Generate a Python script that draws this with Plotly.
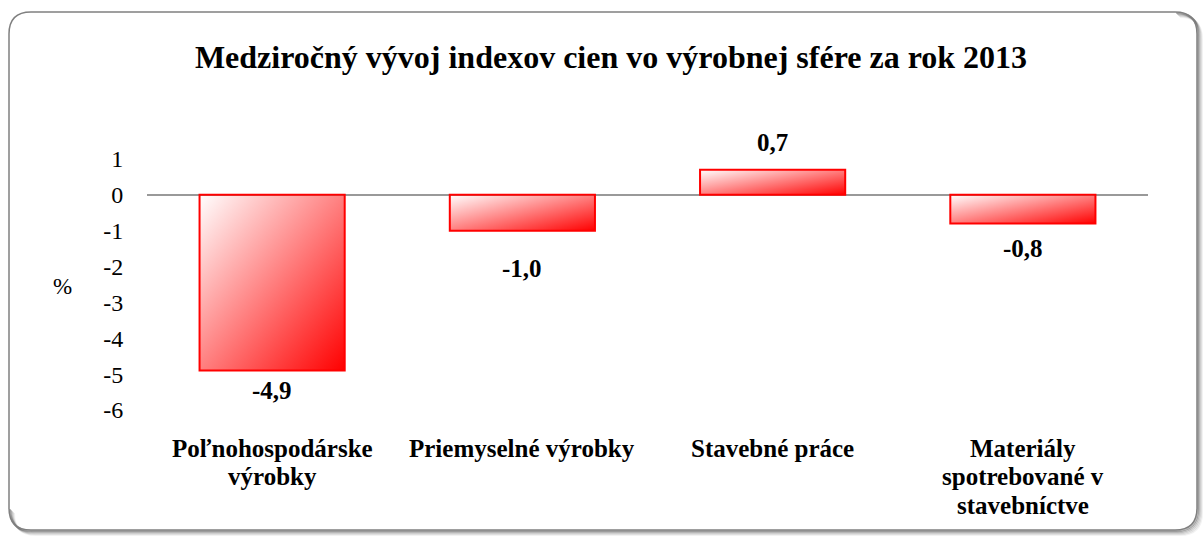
import base64
import plotly.graph_objects as go

categories = ["Poľnohospodárske<br>výrobky", "Priemyselné výrobky", "Stavebné práce",
              "Materiály<br>spotrebované v<br>stavebníctve"]
values = [-4.9, -1.0, 0.7, -0.8]
y_ticks = [1, 0, -1, -2, -3, -4, -5, -6]
title_text = "Medziročný vývoj indexov cien vo výrobnej sfére za rok 2013"
y_unit = "%"

# layout constants (pixels)
W, H = 1204, 538
L, R, T, B = 147, 1148, 159, 410
label_shift = [-20, -38, 27, -25]
bar_w = 0.58
SERIF = "Liberation Serif"
CAT_Y0, CAT_DY = 448, 28.5

def px(x):
    return (x - L) / (R - L)

def py(y):
    return (B - y) / (B - T)

svg = ('<svg xmlns="http://www.w3.org/2000/svg" width="100" height="100" preserveAspectRatio="none">'
       '<defs><linearGradient id="g" x1="0" y1="0" x2="1" y2="1">'
       '<stop offset="0" stop-color="#ffffff"/><stop offset="1" stop-color="#ff0000"/>'
       '</linearGradient></defs><rect width="100" height="100" fill="url(#g)"/></svg>')
grad_uri = "data:image/svg+xml;base64," + base64.b64encode(svg.encode()).decode()

xs = list(range(len(categories)))

fig = go.Figure()
fig.add_trace(go.Bar(
    x=xs, y=values, width=bar_w,
    marker=dict(color="rgba(0,0,0,0)", line=dict(color="#ff0000", width=2)),
    hoverinfo="skip",
))

images = []
for i, v in enumerate(values):
    images.append(dict(
        source=grad_uri, xref="x", yref="y",
        x=i - bar_w / 2, y=max(v, 0), sizex=bar_w, sizey=abs(v),
        xanchor="left", yanchor="top", sizing="stretch", layer="below",
    ))

annotations = []
for i, v in enumerate(values):
    annotations.append(dict(
        x=i, y=v, xref="x", yref="y", text=f"<b>{v:.1f}</b>".replace(".", ","),
        showarrow=False, yshift=label_shift[i], yanchor="middle",
        font=dict(family=SERIF, size=25, color="black"),
    ))
for i, cat in enumerate(categories):
    for k, line in enumerate(cat.split("<br>")):
        annotations.append(dict(
            x=i, y=py(CAT_Y0 + k * CAT_DY), xref="x", yref="paper", text=f"<b>{line}</b>",
            showarrow=False, xanchor="center", yanchor="middle",
            font=dict(family=SERIF, size=25, color="black"),
        ))
annotations.append(dict(
    x=px(62), y=py(286), xref="paper", yref="paper", text=y_unit, showarrow=False,
    font=dict(family=SERIF, size=23, color="black"), xanchor="center", yanchor="middle",
))

# frame with rounded corners
x0, y0, x1, y1, r = 9, 12, 1197, 530, 22

def frame_path(dx=0, dy=0, partial=False):
    a0, b0, a1, b1 = x0 + dx, y0 + dy, x1 + dx, y1 + dy
    if partial:
        pts = (f"M {px(a1 - r)},{py(b0)} Q {px(a1)},{py(b0)} {px(a1)},{py(b0 + r)} "
               f"L {px(a1)},{py(b1 - r)} Q {px(a1)},{py(b1)} {px(a1 - r)},{py(b1)} "
               f"L {px(a0 + r)},{py(b1)} Q {px(a0)},{py(b1)} {px(a0)},{py(b1 - r)}")
        return pts
    return (f"M {px(a0 + r)},{py(b0)} L {px(a1 - r)},{py(b0)} Q {px(a1)},{py(b0)} {px(a1)},{py(b0 + r)} "
            f"L {px(a1)},{py(b1 - r)} Q {px(a1)},{py(b1)} {px(a1 - r)},{py(b1)} "
            f"L {px(a0 + r)},{py(b1)} Q {px(a0)},{py(b1)} {px(a0)},{py(b1 - r)} "
            f"L {px(a0)},{py(b0 + r)} Q {px(a0)},{py(b0)} {px(a0 + r)},{py(b0)} Z")

shapes = []
for d, op in [(5, 0.05), (4, 0.08), (3, 0.12), (2, 0.18), (1, 0.25)]:
    shapes.append(dict(type="path", xref="paper", yref="paper", path=frame_path(d, d, True),
                       line=dict(color=f"rgba(0,0,0,{op})", width=2), layer="above"))
shapes.append(dict(type="path", xref="paper", yref="paper", path=frame_path(),
                   line=dict(color="#808080", width=1.5), layer="above"))

fig.update_layout(
    width=W, height=H,
    margin=dict(l=L, r=W - R, t=T, b=H - B, autoexpand=False),
    paper_bgcolor="white", plot_bgcolor="white",
    separators=",.",
    showlegend=False,
    font=dict(family=SERIF, color="black"),
    title=dict(text=f"<b>{title_text}</b>", x=611 / W, xref="container", xanchor="center",
               y=1 - 57 / H, yref="container", yanchor="middle",
               font=dict(family=SERIF, size=32, color="black")),
    xaxis=dict(range=[-0.5, 3.5], tickvals=xs, showticklabels=False,
               showgrid=False, zeroline=False, showline=False),
    yaxis=dict(range=[-6, 1], tickvals=y_ticks, ticktext=[str(t) for t in y_ticks],
               showgrid=False, zeroline=True, zerolinecolor="#999999", zerolinewidth=2,
               showline=False, ticks="outside", ticklen=18, tickcolor="rgba(0,0,0,0)",
               tickfont=dict(family=SERIF, size=24, color="black")),
    images=images, annotations=annotations, shapes=shapes,
)

fig.write_html("out.html", config={"displayModeBar": False},
               post_script="document.body.style.margin='0';")
